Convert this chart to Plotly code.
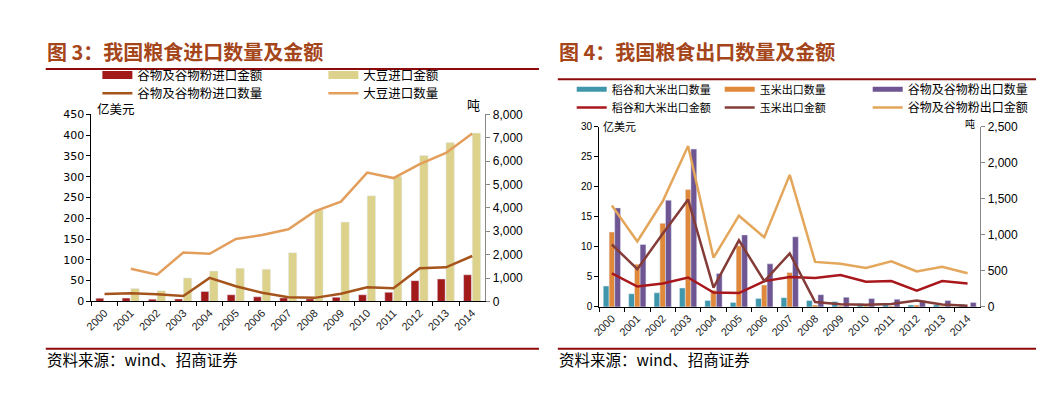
import plotly.graph_objects as go

W, H = 1044, 393
years = [str(y) for y in range(2000, 2015)]

# ---- 图3 进口 ----
grain_imp_value = [7.8, 8, 5.4, 6, 24, 16, 11, 8.5, 6, 10, 16, 22, 50, 54, 64]          # 亿美元
soy_imp_value = [None, 31, 25.6, 56.6, 73, 80, 77.5, 117, 220, 191, 254, 301, 351, 382, 405]  # 亿美元
grain_imp_qty = [317, 344, 303, 234, 1005, 647, 372, 179, 152, 330, 606, 565, 1419, 1460, 1942]  # 吨
soy_imp_qty = [None, 1394, 1143, 2094, 2039, 2672, 2838, 3085, 3850, 4270, 5510, 5275, 5868, 6350, 7176]

# ---- 图4 出口 ----
rice_exp_qty = [290, 183, 196, 263, 89, 62, 116, 129, 89, 76, 49, 40, 28, 31, 36]
corn_exp_qty = [1040, 594, 1161, 1629, 232, 848, 304, 478, 27, 13, 13, 14, 26, 8, 2]
grain_exp_qty = [1375, 866, 1482, 2192, 464, 1000, 598, 973, 170, 134, 116, 107, 89, 89, 62]
rice_exp_value = [5.6, 3.4, 3.9, 4.9, 2.4, 2.3, 4.3, 5.0, 4.8, 5.3, 4.2, 4.3, 2.7, 4.3, 3.9]
corn_exp_value = [10.4, 6.3, 12.2, 17.9, 3.2, 11.1, 4.3, 8.9, 0.8, 0.43, 0.37, 0.5, 1.07, 0.4, 0.2]
grain_exp_value = [16.9, 10.9, 17.6, 26.8, 8.2, 15.2, 11.6, 22.0, 7.5, 7.2, 6.5, 7.6, 5.9, 6.7, 5.6]

CJK = "Noto Sans CJK SC"
NUM = "Liberation Sans"

def px_x(x):
    return x / W

def px_y(y):
    return 1 - y / H

fig = go.Figure()

# ---------- left chart ----------
fig.add_trace(go.Bar(x=years, y=grain_imp_value, name="谷物及谷物粉进口金额", marker_color="#A31A1A",
                     offset=-0.33, width=0.3, xaxis="x", yaxis="y", showlegend=False))
fig.add_trace(go.Bar(x=years, y=soy_imp_value, name="大豆进口金额", marker_color="#DDD28C",
                     offset=0.0, width=0.32, xaxis="x", yaxis="y", showlegend=False))
fig.add_trace(go.Scatter(x=years, y=grain_imp_qty, name="谷物及谷物粉进口数量", mode="lines",
                         line=dict(color="#A5541B", width=2.5), xaxis="x", yaxis="y2", showlegend=False))
fig.add_trace(go.Scatter(x=years, y=soy_imp_qty, name="大豆进口数量", mode="lines",
                         line=dict(color="#E39E5B", width=2.5), xaxis="x", yaxis="y2", showlegend=False))

# legend entries (left)
for name, color, lw, lg in [("谷物及谷物粉进口金额", "#A31A1A", 8, "legend"),
                            ("大豆进口金额", "#DDD28C", 8, "legend"),
                            ("谷物及谷物粉进口数量", "#A5541B", 2.5, "legend2"),
                            ("大豆进口数量", "#E39E5B", 2.5, "legend2")]:
    fig.add_trace(go.Scatter(x=[None], y=[None], mode="lines", name=name,
                             line=dict(color=color, width=lw), legend=lg, xaxis="x", yaxis="y"))

# ---------- right chart ----------
fig.add_trace(go.Bar(x=years, y=rice_exp_qty, name="稻谷和大米出口数量", marker_color="#4097AC",
                     offset=-0.34, width=0.23, xaxis="x2", yaxis="y3", showlegend=False))
fig.add_trace(go.Bar(x=years, y=corn_exp_qty, name="玉米出口数量", marker_color="#E0893B",
                     offset=-0.11, width=0.22, xaxis="x2", yaxis="y3", showlegend=False))
fig.add_trace(go.Bar(x=years, y=grain_exp_qty, name="谷物及谷物粉出口数量", marker_color="#6F5592",
                     offset=0.11, width=0.23, xaxis="x2", yaxis="y3", showlegend=False))
fig.add_trace(go.Scatter(x=years, y=rice_exp_value, name="稻谷和大米出口金额", mode="lines",
                         line=dict(color="#A8171B", width=2.5), xaxis="x2", yaxis="y4", showlegend=False))
fig.add_trace(go.Scatter(x=years, y=corn_exp_value, name="玉米出口金额", mode="lines",
                         line=dict(color="#843C39", width=2.5), xaxis="x2", yaxis="y4", showlegend=False))
fig.add_trace(go.Scatter(x=years, y=grain_exp_value, name="谷物及谷物粉出口金额", mode="lines",
                         line=dict(color="#E3A65B", width=2.5), xaxis="x2", yaxis="y4", showlegend=False))

big = '<span style="font-size:12px">%s</span>'
for name, color, lw, lg, lw_entry in [("稻谷和大米出口数量", "#4097AC", 5, "legend3", None),
                                      ("玉米出口数量", "#E0893B", 5, "legend3", None),
                                      (big % "谷物及谷物粉出口数量", "#6F5592", 5, "legend3", 130),
                                      ("稻谷和大米出口金额", "#A8171B", 2.5, "legend4", None),
                                      ("玉米出口金额", "#843C39", 2.5, "legend4", None),
                                      (big % "谷物及谷物粉出口金额", "#E3A65B", 2.5, "legend4", 130)]:
    tr = go.Scatter(x=[None], y=[None], mode="lines", name=name,
                    line=dict(color=color, width=lw), legend=lg, xaxis="x2", yaxis="y3")
    if lw_entry:
        tr.legendwidth = lw_entry
    fig.add_trace(tr)

tickfont_x = dict(family=NUM, size=11, color="#222")

leg_common = dict(orientation="h", xanchor="left", yanchor="middle", bgcolor="rgba(0,0,0,0)",
                  borderwidth=0, entrywidthmode="pixels", itemwidth=30, traceorder="normal")

fig.update_layout(
    width=W, height=H, margin=dict(l=0, r=0, t=0, b=0),
    paper_bgcolor="white", plot_bgcolor="white",
    barmode="overlay",
    font=dict(family=CJK, color="black"),
    xaxis=dict(domain=[px_x(76), px_x(473)], anchor="y", type="category",
               showline=True, linecolor="black", linewidth=1, ticks="outside", ticklen=4,
               tickcolor="black", tickson="boundaries", tickangle=-45, tickfont=tickfont_x,
               showgrid=False, zeroline=False),
    yaxis=dict(domain=[px_y(297), px_y(103)], anchor="x", range=[0, 450], dtick=50,
               showline=True, linecolor="black", linewidth=1, ticks="outside", ticklen=4,
               tickcolor="black", tickfont=dict(family="DejaVu Sans", size=11, color="black"),
               showgrid=False, zeroline=False),
    yaxis2=dict(overlaying="y", side="right", anchor="x", range=[0, 8000], dtick=1000,
                tickformat=",", showline=True, linecolor="#888", linewidth=1, ticks="outside",
                ticklen=4, tickcolor="#888", tickfont=dict(family=NUM, size=12, color="black"),
                showgrid=False, zeroline=False),
    xaxis2=dict(domain=[px_x(587.7), px_x(971.7)], anchor="y3", type="category",
                showline=True, linecolor="black", linewidth=1, ticks="outside", ticklen=4,
                tickcolor="black", tickson="boundaries", tickangle=-45, tickfont=tickfont_x,
                showgrid=False, zeroline=False),
    yaxis3=dict(domain=[px_y(302.7), px_y(116)], anchor="x2", side="right", range=[0, 2500], dtick=500,
                tickformat=",", showline=True, linecolor="#888", linewidth=1, ticks="outside",
                ticklen=4, tickcolor="#888", tickfont=dict(family=NUM, size=12, color="black"),
                showgrid=False, zeroline=False),
    yaxis4=dict(overlaying="y3", side="left", anchor="x2", range=[0, 30], dtick=5,
                showline=True, linecolor="black", linewidth=1, ticks="outside", ticklen=4,
                tickcolor="black", tickfont=dict(family=NUM, size=10, color="black"),
                showgrid=False, zeroline=False),
    legend=dict(**leg_common, x=px_x(82), y=px_y(62.6), entrywidth=181,
                font=dict(family=CJK, size=12.5, color="black")),
    legend2=dict(**leg_common, x=px_x(82), y=px_y(81.6), entrywidth=181,
                 font=dict(family=CJK, size=12.5, color="black")),
    legend3=dict(**leg_common, x=px_x(560), y=px_y(77), entrywidth=103,
                 font=dict(family=CJK, size=11, color="black")),
    legend4=dict(**leg_common, x=px_x(560), y=px_y(96), entrywidth=103,
                 font=dict(family=CJK, size=11, color="black")),
)

title_color = "#A5451A"
rule_color = "#8E0A0A"
anns = [
    dict(text="<b>图 3：我国粮食进口数量及金额</b>", x=px_x(29), y=px_y(38), xanchor="left", yanchor="middle",
         font=dict(family=CJK, size=20, color=title_color)),
    dict(text="<b>图 4：我国粮食出口数量及金额</b>", x=px_x(545), y=px_y(38), xanchor="left", yanchor="middle",
         font=dict(family=CJK, size=20, color=title_color)),
    dict(text="资料来源：wind、招商证券", x=px_x(29), y=px_y(357), xanchor="left", yanchor="middle",
         font=dict(family=CJK, size=15.5, color="black")),
    dict(text="资料来源：wind、招商证券", x=px_x(545), y=px_y(357), xanchor="left", yanchor="middle",
         font=dict(family=CJK, size=15.5, color="black")),
    dict(text="亿美元", x=px_x(80), y=px_y(97), xanchor="left", yanchor="middle",
         font=dict(family=CJK, size=12.5, color="black")),
    dict(text="吨", x=px_x(461), y=px_y(93), xanchor="center", yanchor="middle",
         font=dict(family=CJK, size=13, color="black")),
    dict(text="亿美元", x=px_x(590), y=px_y(115), xanchor="left", yanchor="middle",
         font=dict(family=CJK, size=11, color="black")),
    dict(text="吨", x=px_x(961), y=px_y(113), xanchor="center", yanchor="middle",
         font=dict(family=CJK, size=10, color="black")),
]
for a in anns:
    fig.add_annotation(xref="paper", yref="paper", showarrow=False, **a)

for (x0, x1, y) in [(30, 527, 56), (546, 1030, 66.7), (30, 527, 346), (546, 1030, 346)]:
    fig.add_shape(type="line", xref="paper", yref="paper", x0=px_x(x0), x1=px_x(x1),
                  y0=px_y(y), y1=px_y(y), line=dict(color=rule_color, width=2))

fig.write_html("out.html")
